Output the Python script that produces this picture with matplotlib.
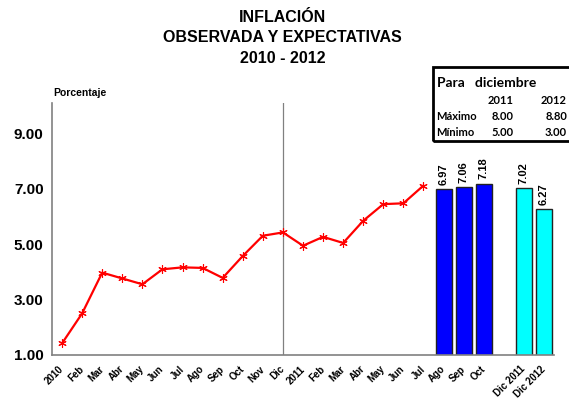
import matplotlib
matplotlib.use("Agg")
import matplotlib.pyplot as plt
from matplotlib.patches import Rectangle
from matplotlib.transforms import ScaledTranslation

plt.rcParams['font.family'] = ['Liberation Sans', 'DejaVu Sans']

''' Data '''
labels = ['2010', 'Feb', 'Mar', 'Abr', 'May', 'Jun', 'Jul', 'Ago', 'Sep', 'Oct', 'Nov', 'Dic',
          '2011', 'Feb', 'Mar', 'Abr', 'May', 'Jun', 'Jul',
          'Ago', 'Sep', 'Oct', '', 'Dic 2011', 'Dic 2012']
observada = [1.42, 2.50, 3.97, 3.76, 3.55, 4.09, 4.16, 4.14, 3.78, 4.57, 5.30, 5.42,
             4.94, 5.26, 5.04, 5.84, 6.44, 6.47, 7.11]
expect_mes = ['Ago', 'Sep', 'Oct']
expect_mes_val = [6.97, 7.06, 7.18]
expect_dic = ['Dic 2011', 'Dic 2012']
expect_dic_val = [7.02, 6.27]
yticks = [1.0, 3.0, 5.0, 7.0, 9.0]

tabla_anios = ['2011', '2012']
tabla_max = [8.00, 8.80]
tabla_min = [5.00, 3.00]

''' Figure '''
fig = plt.figure(figsize=(5.69, 4.07), dpi=100)
ax = fig.add_axes([0.0914, 0.1278, 0.8822, 0.62])

x_line = list(range(len(observada)))
ax.plot(x_line, observada, color='red', lw=1.6, marker=(6, 2, 0), ms=6, mew=0.8, zorder=3)

x_mes = [labels.index(m, len(observada)) for m in expect_mes]
x_dic = [labels.index(m) for m in expect_dic]
b1 = ax.bar(x_mes, expect_mes_val, width=0.8, color='#0000ff', edgecolor='#222222', lw=1, zorder=2)
b2 = ax.bar(x_dic, expect_dic_val, width=0.8, color='#00ffff', edgecolor='#222222', lw=1, zorder=2)
for bars, vals in [(b1, expect_mes_val), (b2, expect_dic_val)]:
    for b, v in zip(bars, vals):
        ax.annotate('%.2f' % v, (b.get_x() + b.get_width() / 2, v), xytext=(0, 3),
                    textcoords='offset points', rotation=90, ha='center', va='bottom',
                    fontsize=8, fontweight='bold')

ax.axvline(labels.index('Dic'), color='#808080', lw=0.9, zorder=1)

ax.set_xlim(-0.5, len(labels) - 0.5)
ax.set_ylim(1.0, 10.1)
ax.set_yticks(yticks)
ax.set_yticklabels(['%.2f' % v for v in yticks], fontsize=11, fontweight='bold')
ax.set_xticks(range(len(labels)))
ax.set_xticklabels(labels, rotation=45, ha='right', va='center', rotation_mode='anchor',
                   fontsize=7, fontweight='bold')
shift = ScaledTranslation(3 / 100, -2 / 100, fig.dpi_scale_trans)
for t in ax.get_xticklabels():
    t.set_transform(t.get_transform() + shift)
ax.tick_params(axis='both', length=0)
ax.tick_params(axis='x', pad=9)
ax.tick_params(axis='y', pad=6)
for s in ['top', 'right']:
    ax.spines[s].set_visible(False)
for s in ['left', 'bottom']:
    ax.spines[s].set_color('#808080')
    ax.spines[s].set_linewidth(1.2)

''' Titles '''
fig.text(0.497, 0.958, 'INFLACIÓN', ha='center', va='center', fontsize=11.5, fontweight='bold')
fig.text(0.497, 0.907, 'OBSERVADA Y EXPECTATIVAS', ha='center', va='center', fontsize=11.5, fontweight='bold')
fig.text(0.497, 0.857, '2010 - 2012', ha='center', va='center', fontsize=11.5, fontweight='bold')
fig.text(0.093, 0.772, 'Porcentaje', ha='left', va='center', fontsize=7.5, fontweight='bold')

''' Table box '''
W, H = 569.0, 407.0
fig.patches.append(Rectangle((433 / W, 1 - 141 / H), 140 / W, 74 / H, transform=fig.transFigure,
                             fill=False, edgecolor='black', lw=2, clip_on=False))
tf = dict(fontfamily=['Lato', 'DejaVu Sans'], fontweight='bold')
fig.text(437 / W, 1 - 83 / H, 'Para   diciembre', ha='left', va='center', fontsize=10, **tf)
col_x = [514 / W, 567 / W]
for cx, a, mx, mn in zip(col_x, tabla_anios, tabla_max, tabla_min):
    fig.text(cx, 1 - 100 / H, a, ha='right', va='center', fontsize=8, **tf)
    fig.text(cx, 1 - 116 / H, '%.2f' % mx, ha='right', va='center', fontsize=8, **tf)
    fig.text(cx, 1 - 132 / H, '%.2f' % mn, ha='right', va='center', fontsize=8, **tf)
fig.text(436 / W, 1 - 116 / H, 'Máximo', ha='left', va='center', fontsize=8, **tf)
fig.text(436 / W, 1 - 132 / H, 'Mínimo', ha='left', va='center', fontsize=8, **tf)

fig.savefig('out.png', dpi=100)
